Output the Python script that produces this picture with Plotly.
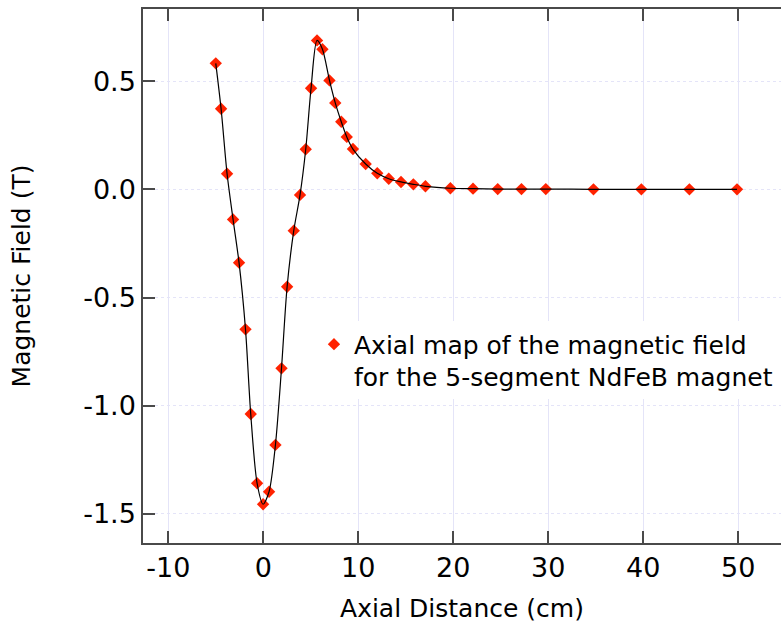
import plotly.graph_objects as go

# Axial position along the magnet (cm) and measured field (T)
axial_cm = [-5.0, -4.44, -3.81, -3.18, -2.55, -1.87, -1.32, -0.65, -0.02, 0.61,
            1.28, 1.92, 2.51, 3.21, 3.87, 4.47, 5.03, 5.66, 6.23, 6.97,
            7.58, 8.21, 8.79, 9.44, 10.78, 12.0, 13.21, 14.5, 15.8, 17.07,
            19.7, 22.08, 24.68, 27.18, 29.74, 34.76, 39.8, 44.86, 49.87]
field_T = [0.582, 0.372, 0.072, -0.139, -0.339, -0.647, -1.038, -1.358, -1.455, -1.397,
           -1.181, -0.827, -0.450, -0.191, -0.026, 0.185, 0.467, 0.688, 0.647, 0.503,
           0.399, 0.312, 0.242, 0.186, 0.117, 0.074, 0.049, 0.034, 0.023, 0.014,
           0.005, 0.003, 0.001, 0.001, 0.001, 0.0, 0.0, 0.0, 0.0]

x_tick_vals = [-10, 0, 10, 20, 30, 40, 50]
x_tick_text = ["-10", "0", "10", "20", "30", "40", "50"]
y_tick_vals = [-1.5, -1.0, -0.5, 0.0, 0.5]
y_tick_text = ["-1.5", "-1.0", "-0.5", "0.0", "0.5"]

legend_label = "Axial map of the magnetic field<br>for the 5-segment NdFeB magnet"

FONT = "DejaVu Sans"
AXIS_COLOR = "#4a4a4a"
GRID_COLOR = "#e4e4f8"

fig = go.Figure()

fig.add_trace(go.Scatter(
    x=axial_cm, y=field_T,
    mode="markers",
    name=legend_label,
    marker=dict(symbol="diamond", size=9.5, color="#ff2200", line=dict(width=0)),
))

fig.add_trace(go.Scatter(
    x=axial_cm, y=field_T,
    mode="lines",
    line=dict(color="black", width=1.2, shape="spline", smoothing=0.8),
    showlegend=False,
    hoverinfo="skip",
))

fig.update_layout(
    width=781, height=631,
    margin=dict(l=143, r=0, t=9, b=88),
    paper_bgcolor="white",
    plot_bgcolor="white",
    font=dict(family=FONT, size=25, color="black"),
    showlegend=True,
    legend=dict(
        x=0.268, y=0.415, xanchor="left", yanchor="top",
        bgcolor="white", borderwidth=0,
        font=dict(family=FONT, size=25, color="black"),
        valign="top",
    ),
    xaxis=dict(
        range=[-12.66, 54.5],
        tickvals=x_tick_vals, ticktext=x_tick_text,
        ticks="inside", ticklen=12, tickwidth=1.5, tickcolor=AXIS_COLOR,
        showline=True, linecolor=AXIS_COLOR, linewidth=1.5, mirror="ticks",
        showgrid=True, gridcolor=GRID_COLOR, gridwidth=1,
        zeroline=False,
        title=dict(text="Axial Distance (cm)", standoff=17,
                   font=dict(family=FONT, size=25)),
        tickfont=dict(family=FONT, size=27),
    ),
    yaxis=dict(
        range=[-1.634, 0.833],
        tickvals=y_tick_vals, ticktext=y_tick_text,
        ticks="inside", ticklen=12, tickwidth=1.5, tickcolor=AXIS_COLOR,
        showline=True, linecolor=AXIS_COLOR, linewidth=1.5, mirror=False,
        showgrid=True, gridcolor=GRID_COLOR, gridwidth=1, griddash="dot",
        zeroline=False,
        title=dict(text="Magnetic Field (T)", standoff=45,
                   font=dict(family=FONT, size=25)),
        tickfont=dict(family=FONT, size=27),
    ),
)

fig.write_html("out.html")
